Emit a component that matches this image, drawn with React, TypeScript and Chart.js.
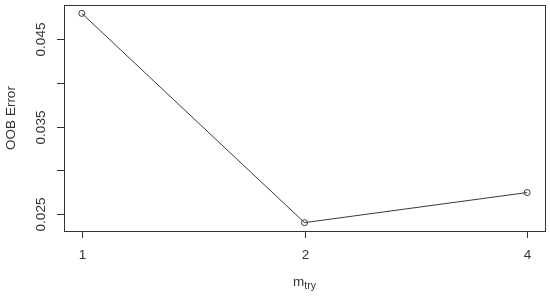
import React, { useEffect, useRef } from "react";
import { Chart, registerables } from "chart.js";

Chart.register(...registerables);

const mtryLabels = ["1", "2", "4"];
const oobError = [0.0479, 0.02405, 0.02748];
const yTicks = [0.025, 0.03, 0.035, 0.04, 0.045];
const yTickLabels = ["0.025", "", "0.035", "", "0.045"];
const xTitle = "m";
const xTitleSub = "try";
const yTitle = "OOB Error";

const INK = "#333333";
const FONT = "13.5px 'Liberation Sans', Arial, sans-serif";
const SUBFONT = "10.5px 'Liberation Sans', Arial, sans-serif";

const rPlotPlugin = {
  id: "rPlot",
  afterDraw(chart: any) {
    const ctx = chart.ctx;
    const area = chart.chartArea;
    const xs = chart.scales.x;
    const ys = chart.scales.y;
    ctx.save();
    ctx.strokeStyle = INK;
    ctx.lineWidth = 1;
    ctx.strokeRect(Math.round(area.left) + 0.5, Math.round(area.top) + 0.5, Math.round(area.right - area.left), Math.round(area.bottom - area.top));
    ctx.fillStyle = INK;
    ctx.font = FONT;
    // x ticks
    ctx.textAlign = "center";
    ctx.textBaseline = "middle";
    mtryLabels.forEach((lab, i) => {
      const px = Math.round(xs.getPixelForValue(i + 1)) + 0.5;
      ctx.beginPath();
      ctx.moveTo(px, area.bottom);
      ctx.lineTo(px, area.bottom + 7);
      ctx.stroke();
      ctx.fillText(lab, px, area.bottom + 24);
    });
    // y ticks
    yTicks.forEach((v, i) => {
      const py = Math.round(ys.getPixelForValue(v)) + 0.5;
      ctx.beginPath();
      ctx.moveTo(area.left - 7, py);
      ctx.lineTo(area.left, py);
      ctx.stroke();
      if (yTickLabels[i]) {
        ctx.save();
        ctx.translate(area.left - 23, py);
        ctx.rotate(-Math.PI / 2);
        ctx.fillText(yTickLabels[i], 0, 0);
        ctx.restore();
      }
    });
    // y title
    ctx.save();
    ctx.translate(11, (area.top + area.bottom) / 2);
    ctx.rotate(-Math.PI / 2);
    ctx.fillText(yTitle, 0, 0);
    ctx.restore();
    // x title with subscript
    const cx = (area.left + area.right) / 2;
    ctx.font = FONT;
    const wm = ctx.measureText(xTitle).width;
    ctx.font = SUBFONT;
    const ws = ctx.measureText(xTitleSub).width;
    const start = cx - (wm + ws) / 2;
    ctx.textAlign = "left";
    ctx.font = FONT;
    ctx.fillText(xTitle, start, 282);
    ctx.font = SUBFONT;
    ctx.fillText(xTitleSub, start + wm, 286);
    ctx.restore();
  },
};

export default function App() {
  const ref = useRef<HTMLCanvasElement>(null);
  useEffect(() => {
    document.body.style.margin = "0";
    const lo = Math.min(...oobError);
    const hi = Math.max(...oobError);
    const pad = (hi - lo) * 0.04;
    const chart = new Chart(ref.current!, {
      type: "line",
      data: {
        datasets: [
          {
            data: oobError.map((v, i) => ({ x: i + 1, y: v })),
            borderColor: "#3a3a3a",
            borderWidth: 1,
            pointRadius: 3,
            pointBorderWidth: 1,
            pointBackgroundColor: "rgba(0,0,0,0)",
            pointBorderColor: "#3a3a3a",
            tension: 0,
          },
        ],
      },
      options: {
        animation: false,
        responsive: false,
        maintainAspectRatio: false,
        layout: { padding: { left: 64, top: 5, right: 5, bottom: 65 } },
        plugins: { legend: { display: false }, tooltip: { enabled: false } },
        scales: {
          x: { type: "linear", display: false, min: 1 - 0.08, max: mtryLabels.length + 0.08 },
          y: { type: "linear", display: false, min: lo - pad, max: hi + pad },
        },
      },
      plugins: [rPlotPlugin],
    });
    return () => chart.destroy();
  }, []);
  return <canvas ref={ref} width={550} height={296} style={{ display: "block" }} />;
}
